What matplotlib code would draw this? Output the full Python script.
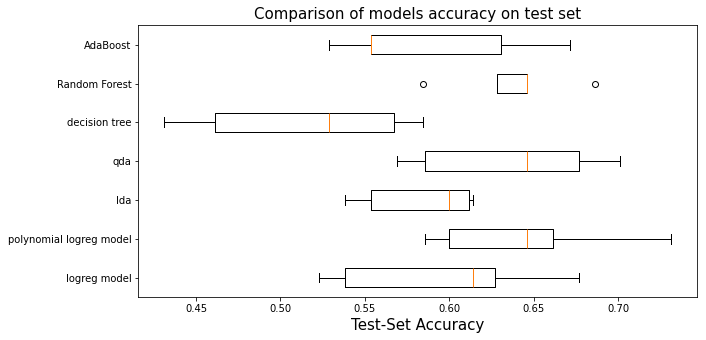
import matplotlib
matplotlib.use("Agg")
import matplotlib.pyplot as plt

# Box statistics (bottom to top)
models = ['logreg model', 'polynomial logreg model', 'lda', 'qda',
          'decision tree', 'Random Forest', 'AdaBoost']
whislo = [0.5227, 0.5857, 0.5382, 0.5693, 0.4308, 0.6284, 0.5288]
q1 = [0.5382, 0.5998, 0.5537, 0.5857, 0.4611, 0.6284, 0.5537]
med = [0.6142, 0.6462, 0.5998, 0.6462, 0.5288, 0.6460, 0.5537]
q3 = [0.6273, 0.6615, 0.6118, 0.6769, 0.5674, 0.6460, 0.6308]
whishi = [0.6769, 0.7316, 0.6140, 0.7013, 0.5844, 0.6460, 0.6715]
fliers = [[], [], [], [], [], [0.5844, 0.6865], []]

stats = []
for i, name in enumerate(models):
    stats.append({'label': name, 'whislo': whislo[i], 'q1': q1[i], 'med': med[i],
                  'q3': q3[i], 'whishi': whishi[i], 'fliers': fliers[i]})

fig = plt.figure(figsize=(706 / 72, 340 / 72), dpi=72)
ax = fig.add_axes([138.3 / 706, 43 / 340, 558.4 / 706, 271.7 / 340])
ax.bxp(stats, vert=False)
ax.set_title('Comparison of models accuracy on test set', fontsize=15)
ax.set_xlabel('Test-Set Accuracy', fontsize=15)
fig.savefig('out.png', dpi=72)
